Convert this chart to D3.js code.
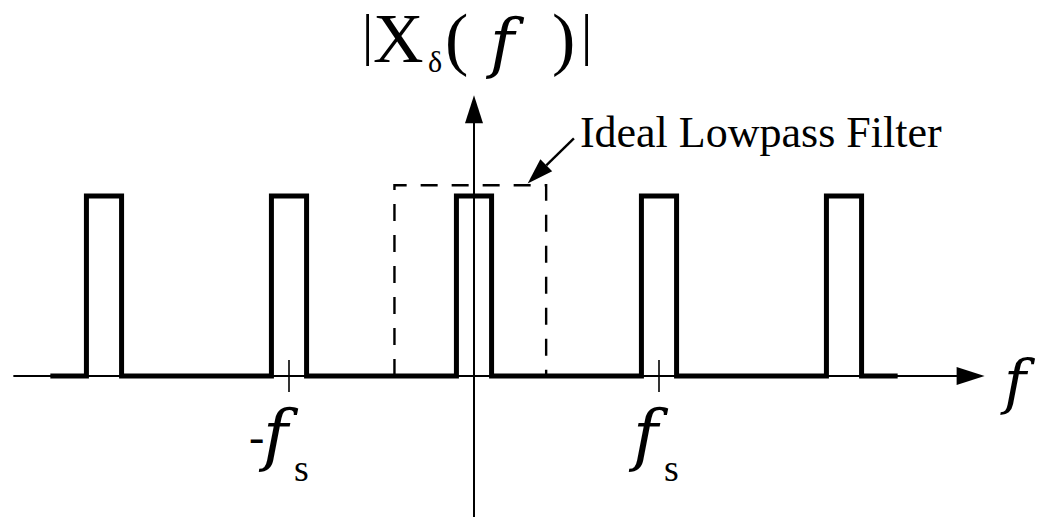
<!DOCTYPE html>
<html>
<head>
<meta charset="utf-8">
<script src="https://cdn.jsdelivr.net/npm/d3@7"></script>
<style>
  html, body { margin: 0; padding: 0; background: #fff; }
  svg { display: block; }
  text { font-family: "Liberation Serif", "Times New Roman", serif; fill: #000; }
  .mathf { font-family: "DejaVu Serif", serif; font-style: italic; }
</style>
</head>
<body>
<svg id="chart" width="1044" height="517"></svg>
<script>
// Spectrum of the impulse-sampled signal: copies of the baseband spectrum at k·fs
const harmonics = [-2, -1, 0, 1, 2];
const pulseHalfWidth = 0.095;      // baseband bandwidth, in units of fs
const pulseHeight = 1;
const spectrumExtent = [-2.29, 2.29];

// Ideal lowpass (reconstruction) filter
const filterBand = [-0.43, 0.39];
const filterGain = 1.06;

// Axis extents (in fs units / magnitude units)
const freqAxisExtent = [-2.49, 2.76];
const magAxisExtent = [-0.8, 1.56];

// Marked frequencies and their labels
const tickValues = [-1, 1];
const tickSigns = ["-", ""];

// Annotation leader: from label to filter edge
const leaderFrom = [0.54, 1.32];
const leaderTo = [0.29, 1.07];

const svg = d3.select("#chart");

const x = d3.scaleLinear().domain([0, 1]).range([474, 659]);
const y = d3.scaleLinear().domain([0, 1]).range([376, 196]);

// ---- axes -------------------------------------------------------------
const axisW = 2;
svg.append("line")
  .attr("x1", x(freqAxisExtent[0])).attr("x2", x(freqAxisExtent[1]) - 20)
  .attr("y1", y(0)).attr("y2", y(0))
  .attr("stroke", "#000").attr("stroke-width", axisW);
svg.append("line")
  .attr("x1", x(0)).attr("x2", x(0))
  .attr("y1", y(magAxisExtent[0])).attr("y2", y(magAxisExtent[1]) + 20)
  .attr("stroke", "#000").attr("stroke-width", axisW);

// arrowheads
const xTip = x(freqAxisExtent[1]), yTip = y(magAxisExtent[1]);
svg.append("path")
  .attr("d", `M${xTip},${y(0)} L${xTip - 28},${y(0) - 9} L${xTip - 28},${y(0) + 9} Z`)
  .attr("fill", "#000");
svg.append("path")
  .attr("d", `M${x(0)},${yTip} L${x(0) - 9},${yTip + 28} L${x(0) + 9},${yTip + 28} Z`)
  .attr("fill", "#000");

// tick marks at ±fs
svg.selectAll("line.tick").data(tickValues).join("line")
  .attr("class", "tick")
  .attr("x1", d => x(d)).attr("x2", d => x(d))
  .attr("y1", y(0) - 16).attr("y2", y(0) + 16)
  .attr("stroke", "#000").attr("stroke-width", 1.6);

// ---- ideal lowpass filter (dashed) -------------------------------------
const filterPts = [
  [filterBand[0], 0], [filterBand[0], filterGain],
  [filterBand[1], filterGain], [filterBand[1], 0]
];
svg.append("path")
  .attr("d", d3.line().x(d => x(d[0])).y(d => y(d[1]))(filterPts))
  .attr("fill", "none").attr("stroke", "#000")
  .attr("stroke-width", 2.4).attr("stroke-dasharray", "17,14");

// ---- replicated spectrum ------------------------------------------------
const spectrumPts = [[spectrumExtent[0], 0]];
harmonics.forEach(k => {
  spectrumPts.push([k - pulseHalfWidth, 0], [k - pulseHalfWidth, pulseHeight],
                   [k + pulseHalfWidth, pulseHeight], [k + pulseHalfWidth, 0]);
});
spectrumPts.push([spectrumExtent[1], 0]);
svg.append("path")
  .attr("d", d3.line().x(d => x(d[0])).y(d => y(d[1]))(spectrumPts))
  .attr("fill", "none").attr("stroke", "#000")
  .attr("stroke-width", 5).attr("stroke-linejoin", "miter");

// ---- leader arrow -------------------------------------------------------
const lx1 = x(leaderFrom[0]), ly1 = y(leaderFrom[1]);
const lx2 = x(leaderTo[0]), ly2 = y(leaderTo[1]);
const ang = Math.atan2(ly2 - ly1, lx2 - lx1);
const hl = 26, hw = 8.5;
const bx = lx2 - hl * Math.cos(ang), by = ly2 - hl * Math.sin(ang);
svg.append("line")
  .attr("x1", lx1).attr("y1", ly1).attr("x2", bx).attr("y2", by)
  .attr("stroke", "#000").attr("stroke-width", 2.4);
svg.append("path")
  .attr("d", `M${lx2},${ly2} L${bx - hw * Math.sin(ang)},${by + hw * Math.cos(ang)} L${bx + hw * Math.sin(ang)},${by - hw * Math.cos(ang)} Z`)
  .attr("fill", "#000");

svg.append("text")
  .attr("x", lx1 + 6).attr("y", 147)
  .attr("font-size", 44)
  .text("Ideal Lowpass Filter");

// ---- title |Xδ(f)| -----------------------------------------------------
const title = svg.append("text").attr("y", 62).attr("font-size", 70);
title.append("tspan").attr("x", 362).attr("y", 54).attr("font-size", 56).text("|");
title.append("tspan").attr("x", 373).attr("y", 62).text("X");
title.append("tspan").attr("x", 428).attr("y", 72).attr("font-size", 30).text("δ");
title.append("tspan").attr("x", 445).attr("y", 62).text("(");
title.append("tspan").attr("x", 490).attr("y", 65).attr("font-size", 66).attr("class", "mathf").text("f");
title.append("tspan").attr("x", 552).attr("y", 62).text(")");
title.append("tspan").attr("x", 581).attr("y", 54).attr("font-size", 56).text("|");

// ---- tick labels ±fs ----------------------------------------------------
tickValues.forEach((v, i) => {
  const t = svg.append("text");
  const x0 = x(v) - 26;
  if (tickSigns[i]) {
    t.append("tspan").attr("x", x0 - 14).attr("y", 452).attr("font-size", 46).text(tickSigns[i]);
  }
  t.append("tspan").attr("x", x0).attr("y", 458).attr("font-size", 68)
    .attr("class", "mathf").text("f");
  t.append("tspan").attr("x", x0 + 31).attr("y", 481).attr("font-size", 38).text("s");
});

// ---- frequency axis label -----------------------------------------------
svg.append("text")
  .attr("x", 1004).attr("y", 403)
  .attr("font-size", 60).attr("class", "mathf")
  .text("f");
</script>
</body>
</html>
